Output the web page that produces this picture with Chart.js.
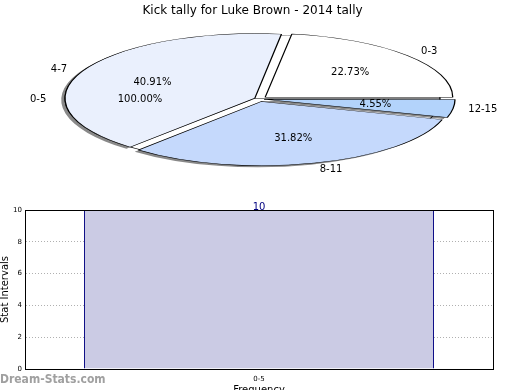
<!DOCTYPE html>
<html>
<head>
<meta charset="utf-8">
<script src="https://cdn.jsdelivr.net/npm/chart.js@4"></script>
<style>
  body { margin: 0; background: #fff; }
  #wrap { position: relative; width: 520px; height: 390px; overflow: hidden; }
  canvas { position: absolute; left: 0; }
  #mark { position: absolute; left: 0; top: 372px; font: bold 12px "DejaVu Sans Condensed", "DejaVu Sans", sans-serif; color: #a0a0a0; }
</style>
</head>
<body>
<div id="wrap">
  <canvas id="pieBack" width="520" height="200" style="top:0"></canvas>
  <canvas id="pieShadow" width="520" height="200" style="top:0"></canvas>
  <canvas id="pieFront" width="520" height="200" style="top:0"></canvas>
  <canvas id="pieBackText" width="520" height="200" style="top:0"></canvas>
  <canvas id="bars" width="520" height="205" style="top:195px"></canvas>
  <div id="mark">Dream-Stats.com</div>
</div>
<script>
// data
const chartTitle = 'Kick tally for Luke Brown - 2014 tally';
const backLabels = ['0-5'];
const backValues = [100];
// listed clockwise from 3 o'clock (the reference runs counter-clockwise)
const sliceLabels = ['12-15', '8-11', '4-7', '0-3'];
const sliceValues = [4.55, 31.82, 40.91, 22.73];
const sliceColors = ['#b3d3fb', '#c5d9fc', '#eaf0fd', '#ffffff'];
const shadowColors = ['rgba(40,40,40,0.55)', 'rgba(40,40,40,0.55)', 'rgba(40,40,40,0.55)', 'rgba(0,0,0,0)'];
const sliceOffsets = [10, 16, 11, 16];

const barLabels = ['0-5'];
const barValues = [10];
const yTicks = [0, 2, 4, 6, 8, 10];

Chart.defaults.font.family = '"DejaVu Sans", sans-serif';
Chart.defaults.color = '#000';
Chart.defaults.animation = false;

// pie drawn in a unit circle of radius 100, then squashed into an ellipse
const R = 100;
const SX = 1.875, SY = 0.64;

const ellipse = {
  id: 'ellipse',
  beforeDatasetsDraw(chart) {
    const a = chart.getDatasetMeta(0).data[0];
    const ctx = chart.ctx;
    ctx.save();
    ctx.translate(a.x, a.y);
    ctx.scale(SX, SY);
    ctx.translate(-a.x, -a.y);
  },
  afterDatasetsDraw(chart) {
    chart.ctx.restore();
  }
};

const pieText = {
  id: 'pieText',
  afterDatasetsDraw(chart, args, opts) {
    if (!opts.show) return;
    const ctx = chart.ctx;
    const meta = chart.getDatasetMeta(0);
    const ds = chart.data.datasets[0];
    const total = ds.data.reduce((s, v) => s + v, 0);
    ctx.save();
    ctx.font = '10px "DejaVu Sans", sans-serif';
    ctx.fillStyle = '#000';
    ctx.textBaseline = 'middle';
    meta.data.forEach((a, i) => {
      const mid = (a.startAngle + a.endAngle) / 2;
      const full = a.endAngle - a.startAngle >= Math.PI * 2 - 1e-6;
      const off = full ? 0 : (ds.offset ? ds.offset[i] : 0) / 4;
      const ang = full ? Math.PI : mid;
      const px = (r) => a.x + Math.cos(ang) * (off + r) * SX;
      const py = (r) => a.y + Math.sin(ang) * (off + r) * SY;
      ctx.textAlign = Math.cos(ang) > 0 ? 'left' : 'right';
      ctx.fillText(chart.data.labels[i], px(1.1 * R), py(1.1 * R));
      ctx.textAlign = 'center';
      ctx.fillText((ds.data[i] / total * 100).toFixed(2) + '%', px(0.6 * R), py(0.6 * R));
    });
    ctx.restore();
  }
};

function pieOptions(padding, showText, withTitle) {
  return {
    responsive: false,
    events: [],
    rotation: 90,
    radius: R,
    layout: { padding },
    plugins: {
      legend: { display: false },
      tooltip: { enabled: false },
      title: withTitle ? {
        display: true, text: chartTitle, color: '#000',
        font: { size: 12, weight: 'normal' }, padding: { top: 4, bottom: 0 }
      } : { display: false },
      pieText: { show: showText }
    }
  };
}

// 0-5 pie sitting behind (100%)
new Chart(document.getElementById('pieBack'), {
  type: 'pie',
  data: {
    labels: backLabels,
    datasets: [{ data: backValues, backgroundColor: ['#ffffff'], borderColor: '#000', borderWidth: 0.7 }]
  },
  options: pieOptions({ left: 0, right: 15, top: 0, bottom: 21.4 }, false, true),
  plugins: [ellipse, pieText]
});

// drop shadow of the exploded slices
new Chart(document.getElementById('pieShadow'), {
  type: 'pie',
  data: {
    labels: sliceLabels,
    datasets: [{ data: sliceValues, backgroundColor: shadowColors, borderWidth: 0, offset: sliceOffsets }]
  },
  options: pieOptions({ left: 0, right: 8.5, top: 1.3, bottom: -1.3 }, false, false),
  plugins: [ellipse, pieText]
});

new Chart(document.getElementById('pieFront'), {
  type: 'pie',
  data: {
    labels: sliceLabels,
    datasets: [{ data: sliceValues, backgroundColor: sliceColors, borderColor: '#000', borderWidth: 0.7, offset: sliceOffsets }]
  },
  options: pieOptions({ left: 0, right: 1, top: 0, bottom: 2 }, true, false),
  plugins: [ellipse, pieText]
});

// labels of the 0-5 pie end up on top of the other slices
new Chart(document.getElementById('pieBackText'), {
  type: 'pie',
  data: {
    labels: backLabels,
    datasets: [{ data: backValues, backgroundColor: ['rgba(0,0,0,0)'], borderWidth: 0 }]
  },
  options: pieOptions({ left: 0, right: 15, top: 0, bottom: 2 }, true, false),
  plugins: [ellipse, pieText]
});

// bar chart frame + value label
const frame = {
  id: 'frame',
  afterDraw(chart) {
    const { ctx, chartArea: c } = chart;
    ctx.save();
    ctx.strokeStyle = '#000';
    ctx.lineWidth = 1;
    ctx.strokeRect(Math.round(c.left) + 0.5, Math.round(c.top) + 0.5, Math.round(c.right - c.left), Math.round(c.bottom - c.top));
    ctx.fillStyle = '#000080';
    ctx.font = '10px "DejaVu Sans", sans-serif';
    ctx.textAlign = 'center';
    ctx.textBaseline = 'middle';
    chart.getDatasetMeta(0).data.forEach((b, i) => {
      ctx.fillText(String(barValues[i]), b.x, b.y - 3);
    });
    ctx.restore();
  }
};

new Chart(document.getElementById('bars'), {
  type: 'bar',
  data: {
    labels: barLabels,
    datasets: [{
      data: barValues,
      backgroundColor: '#cbcbe4',
      borderColor: '#000080',
      borderWidth: { left: 1, right: 1, top: 0, bottom: 0 },
      borderSkipped: false,
      barPercentage: 0.748,
      categoryPercentage: 1
    }]
  },
  options: {
    responsive: false,
    events: [],
    layout: { padding: { left: 0, right: 27, top: 15, bottom: 0 } },
    plugins: { legend: { display: false }, tooltip: { enabled: false } },
    scales: {
      x: {
        afterFit(s) { s.height = 31; },
        grid: { offset: false, color: '#b0b0b0', drawTicks: false },
        border: { color: '#000', dash: [1, 2] },
        ticks: { font: { size: 7 }, padding: 6, color: '#000' },
        title: { display: true, text: 'Frequency', font: { size: 10 }, padding: { top: 0, bottom: 4 }, color: '#000' }
      },
      y: {
        min: 0, max: 10,
        afterFit(s) { s.width = 25; },
        afterBuildTicks(s) { s.ticks = yTicks.map(v => ({ value: v })); },
        grid: { color: '#b0b0b0', drawTicks: false },
        border: { color: '#000', dash: [1, 2] },
        ticks: { font: { size: 7 }, padding: 3, color: '#000' },
        title: { display: true, text: 'Stat Intervals', font: { size: 10 }, padding: { top: -1, bottom: 0 }, color: '#000' }
      }
    }
  },
  plugins: [frame]
});
</script>
</body>
</html>
